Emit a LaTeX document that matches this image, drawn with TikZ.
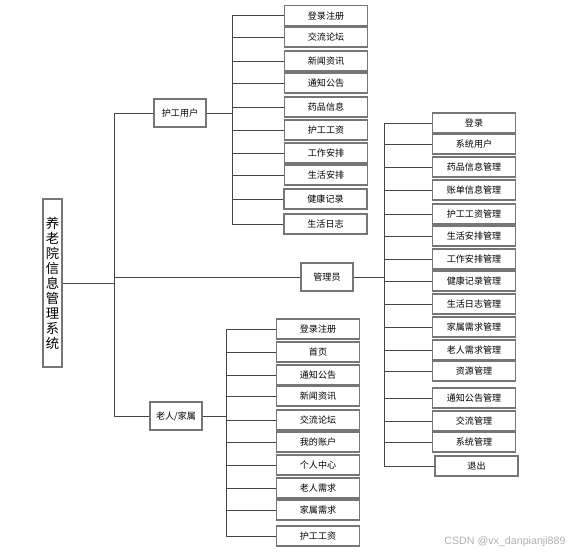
\documentclass[tikz,border=0pt]{standalone}
\usepackage{fontspec}
\newfontfamily\cjk{Noto Sans CJK SC}
\newfontfamily\wmfont{Liberation Sans}

\tikzset{every picture/.style={line width=0.75pt}}
\tikzset{
  leaf/.style={draw={rgb, 255:red, 118; green, 118; blue, 118}, line width=1.1pt, fill=white,
    inner sep=0pt, minimum width=62.5pt, minimum height=15pt, font=\cjk\fontsize{6.8}{8}\selectfont},
  role/.style={leaf, minimum width=39pt, minimum height=21pt},
  link/.style={draw={rgb, 255:red, 70; green, 70; blue, 70}, line width=0.6pt},
}

\begin{document}
\begin{tikzpicture}[x=0.75pt,y=0.75pt,yscale=-1,xscale=1]
\path[use as bounding box] (0,0) rectangle (570,554);

%bus lines (x positions)
\coordinate (trunk) at (114,0);
\coordinate (hgbus) at (232,0);
\coordinate (admbus) at (384,0);
\coordinate (lrbus) at (226,0);

% Root
\node [leaf, minimum width=14.5pt, minimum height=126pt, align=center,
  font=\cjk\fontsize{10}{11.25}\selectfont] (root) at (52.5,283) {养\\老\\院\\信\\息\\管\\理\\系\\统};

% Roles
\node [role] (hg) at (180,113) {护工用户};
\node [role] (adm) at (327,277) {管理员};
\node [role] (lr) at (176,416) {老人/家属};

% 护工用户 items
\node [leaf] (hg1) at (326,15.7) {登录注册};
\node [leaf] (hg2) at (326,37) {交流论坛};
\node [leaf] (hg3) at (326,61) {新闻资讯};
\node [leaf] (hg4) at (326,83) {通知公告};
\node [leaf] (hg5) at (326,107) {药品信息};
\node [leaf] (hg6) at (326,130) {护工工资};
\node [leaf] (hg7) at (326,153) {工作安排};
\node [leaf] (hg8) at (326,175) {生活安排};
\node [leaf] (hg9) at (325.5,199) {健康记录};
\node [leaf] (hg10) at (325.5,224) {生活日志};

% 管理员 items
\node [leaf] (adm1) at (474,123) {登录};
\node [leaf] (adm2) at (474,144) {系统用户};
\node [leaf] (adm3) at (474,167) {药品信息管理};
\node [leaf] (adm4) at (474,190) {账单信息管理};
\node [leaf] (adm5) at (474,214) {护工工资管理};
\node [leaf] (adm6) at (474,236) {生活安排管理};
\node [leaf] (adm7) at (474,259) {工作安排管理};
\node [leaf] (adm8) at (474,281) {健康记录管理};
\node [leaf] (adm9) at (474,304) {生活日志管理};
\node [leaf] (adm10) at (474,327) {家属需求管理};
\node [leaf] (adm11) at (474,350) {老人需求管理};
\node [leaf] (adm12) at (474,371) {资源管理};
\node [leaf] (adm13) at (474,398) {通知公告管理};
\node [leaf] (adm14) at (474,421) {交流管理};
\node [leaf] (adm15) at (474,442) {系统管理};
\node [leaf] (adm16) at (476.5,466) {退出};

% 老人/家属 items
\node [leaf] (lr1) at (318,329) {登录注册};
\node [leaf] (lr2) at (318,352) {首页};
\node [leaf] (lr3) at (318,375) {通知公告};
\node [leaf] (lr4) at (318,396) {新闻资讯};
\node [leaf] (lr5) at (318,420) {交流论坛};
\node [leaf] (lr6) at (318,442) {我的账户};
\node [leaf] (lr7) at (318,465) {个人中心};
\node [leaf] (lr8) at (318,488) {老人需求};
\node [leaf] (lr9) at (318,510) {家属需求};
\node [leaf] (lr10) at (318,536) {护工工资};

%Straight Lines: root to roles
\draw [link] (root.east) -- (root.east -| trunk);
\draw [link] (hg.west -| trunk) -- (lr.west -| trunk);
\draw [link] (hg.west -| trunk) -- (hg.west);
\draw [link] (adm.west -| trunk) -- (adm.west);
\draw [link] (lr.west -| trunk) -- (lr.west);

%Straight Lines: 护工用户
\draw [link] (hg.east) -- (hg.east -| hgbus);
\draw [link] (hg1.west -| hgbus) -- (hg10.west -| hgbus);
\draw [link] (hg1.west -| hgbus) -- (hg1.west);
\draw [link] (hg2.west -| hgbus) -- (hg2.west);
\draw [link] (hg3.west -| hgbus) -- (hg3.west);
\draw [link] (hg4.west -| hgbus) -- (hg4.west);
\draw [link] (hg5.west -| hgbus) -- (hg5.west);
\draw [link] (hg6.west -| hgbus) -- (hg6.west);
\draw [link] (hg7.west -| hgbus) -- (hg7.west);
\draw [link] (hg8.west -| hgbus) -- (hg8.west);
\draw [link] (hg9.west -| hgbus) -- (hg9.west);
\draw [link] (hg10.west -| hgbus) -- (hg10.west);

%Straight Lines: 管理员
\draw [link] (adm.east) -- (adm.east -| admbus);
\draw [link] (adm1.west -| admbus) -- (adm16.west -| admbus);
\draw [link] (adm1.west -| admbus) -- (adm1.west);
\draw [link] (adm2.west -| admbus) -- (adm2.west);
\draw [link] (adm3.west -| admbus) -- (adm3.west);
\draw [link] (adm4.west -| admbus) -- (adm4.west);
\draw [link] (adm5.west -| admbus) -- (adm5.west);
\draw [link] (adm6.west -| admbus) -- (adm6.west);
\draw [link] (adm7.west -| admbus) -- (adm7.west);
\draw [link] (adm8.west -| admbus) -- (adm8.west);
\draw [link] (adm9.west -| admbus) -- (adm9.west);
\draw [link] (adm10.west -| admbus) -- (adm10.west);
\draw [link] (adm11.west -| admbus) -- (adm11.west);
\draw [link] (adm12.west -| admbus) -- (adm12.west);
\draw [link] (adm13.west -| admbus) -- (adm13.west);
\draw [link] (adm14.west -| admbus) -- (adm14.west);
\draw [link] (adm15.west -| admbus) -- (adm15.west);
\draw [link] (adm16.west -| admbus) -- (adm16.west);

%Straight Lines: 老人/家属
\draw [link] (lr.east) -- (lr.east -| lrbus);
\draw [link] (lr1.west -| lrbus) -- (lr10.west -| lrbus);
\draw [link] (lr1.west -| lrbus) -- (lr1.west);
\draw [link] (lr2.west -| lrbus) -- (lr2.west);
\draw [link] (lr3.west -| lrbus) -- (lr3.west);
\draw [link] (lr4.west -| lrbus) -- (lr4.west);
\draw [link] (lr5.west -| lrbus) -- (lr5.west);
\draw [link] (lr6.west -| lrbus) -- (lr6.west);
\draw [link] (lr7.west -| lrbus) -- (lr7.west);
\draw [link] (lr8.west -| lrbus) -- (lr8.west);
\draw [link] (lr9.west -| lrbus) -- (lr9.west);
\draw [link] (lr10.west -| lrbus) -- (lr10.west);

% Text Node
\node [anchor=east, inner sep=0pt, text={rgb, 255:red, 175; green, 175; blue, 175},
  font=\wmfont\fontsize{8}{9}\selectfont] (wm) at (566,542) {CSDN @vx\_danpianji889};

\end{tikzpicture}
\end{document}
